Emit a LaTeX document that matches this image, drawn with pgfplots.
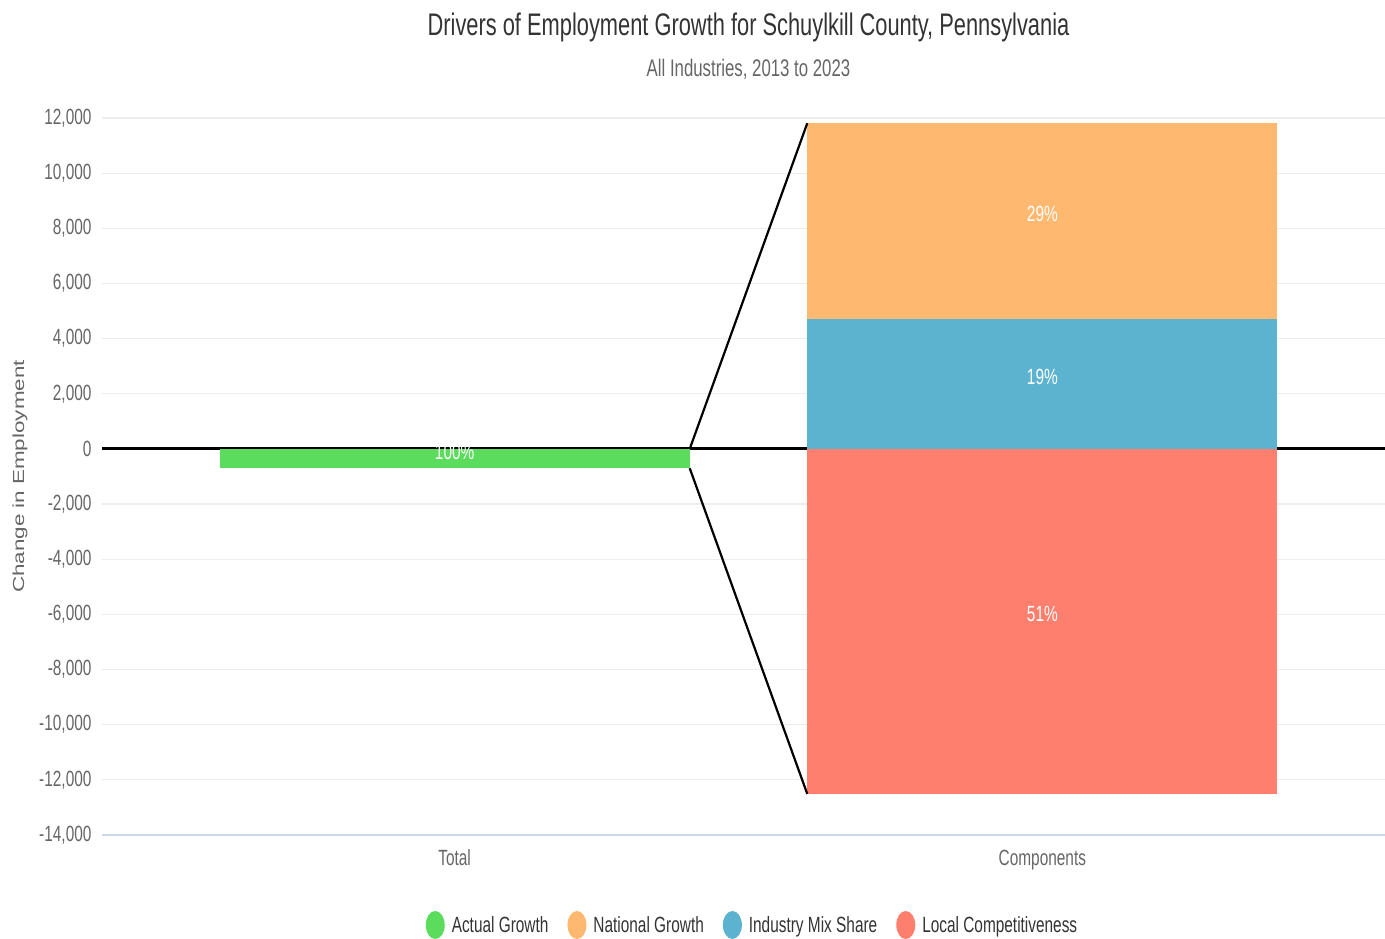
\documentclass[border=0pt]{standalone}
\usepackage{fontspec}
\setmainfont{Liberation Sans}[FakeStretch=0.7]
\newfontfamily\ylabfont{Liberation Sans}[FakeStretch=1.4]
\usepackage{pgfplots}
\pgfplotsset{compat=1.18}
\definecolor{actual}{HTML}{5CDC5C}
\definecolor{national}{HTML}{FFB870}
\definecolor{mix}{HTML}{5CB3D0}
\definecolor{local}{HTML}{FF7F6E}
\definecolor{gridc}{HTML}{EDEDED}
\definecolor{axisc}{HTML}{CCD6EB}
\definecolor{labc}{HTML}{666666}
\definecolor{titc}{HTML}{333333}
\begin{document}
\begin{tikzpicture}
\path[use as bounding box] (0,0) rectangle (1385pt,938pt);
\begin{axis}[
  at={(102pt,103pt)}, anchor=south west,
  scale only axis, width=1283pt, height=717pt,
  xmin=-0.6, xmax=1.583, ymin=-14000, ymax=12000,
  xtick={0,1}, xticklabels={Total,Components},
  ytick={-14000,-12000,...,12000},
  scaled y ticks=false,
  separate axis lines,
  axis x line*=bottom, axis y line*=left,
  y axis line style={draw=none},
  x axis line style={draw=axisc, line width=1.2pt},
  major tick length=0pt,
  ymajorgrids, grid style={color=gridc, line width=1.2pt},
  tick label style={font=\fontsize{22}{26}\selectfont, text=labc},
  yticklabel style={anchor=east, xshift=-7pt, /pgf/number format/fixed, /pgf/number format/precision=0, /pgf/number format/1000 sep={,}, /pgf/number format/assume math mode=true},
  xticklabel style={anchor=base, yshift=-30pt},
  ylabel={\ylabfont Change in Employment},
  ylabel style={at={(axis description cs:-0.0639,0.5)}, anchor=center, font=\fontsize{16}{18}\selectfont, text=labc},
  legend columns=4,
  legend cell align=left,
  legend image code/.code={\fill[#1] (0pt,0pt) ellipse [x radius=9.5pt, y radius=14pt]; \path (-9.5pt,0pt) -- (14.5pt,0pt);},
  legend style={at={(0.507,-0.1255)}, anchor=center, draw=none, fill=none,
    font=\fontsize{22}{26}\selectfont, text=titc,
    /tikz/every even column/.append style={column sep=17pt}},
]
\addplot[forget plot, black, line width=3pt] coordinates {(-0.6,0) (1.583,0)};
\addplot[fill=actual, draw=none] coordinates {(-0.4,0) (0.4,0) (0.4,-700) (-0.4,-700)};
\addlegendentry{Actual Growth}
\addplot[fill=national, draw=none] coordinates {(0.6,4720) (1.4,4720) (1.4,11810) (0.6,11810)};
\addlegendentry{National Growth}
\addplot[fill=mix, draw=none] coordinates {(0.6,0) (1.4,0) (1.4,4720) (0.6,4720)};
\addlegendentry{Industry Mix Share}
\addplot[fill=local, draw=none] coordinates {(0.6,0) (1.4,0) (1.4,-12510) (0.6,-12510)};
\addlegendentry{Local Competitiveness}
\addplot[forget plot, black, line width=2.2pt] coordinates {(0.4,0) (0.6,11810)};
\addplot[forget plot, black, line width=2.2pt] coordinates {(0.4,-700) (0.6,-12510)};
\node[text=white, font=\fontsize{22}{26}\selectfont, yshift=7pt] at (axis cs:0,-350) {100\%};
\node[text=white, font=\fontsize{22}{26}\selectfont, yshift=7pt] at (axis cs:1,8265) {29\%};
\node[text=white, font=\fontsize{22}{26}\selectfont, yshift=7pt] at (axis cs:1,2360) {19\%};
\node[text=white, font=\fontsize{22}{26}\selectfont, yshift=7pt] at (axis cs:1,-6255) {51\%};
\end{axis}
\node[font=\fontsize{31.2}{36}\selectfont, text=titc] at (748.5pt,911pt) {Drivers of Employment Growth for Schuylkill County, Pennsylvania};
\node[font=\fontsize{24}{28}\selectfont, text=labc] at (748.5pt,869pt) {All Industries, 2013 to 2023};
\end{tikzpicture}
\end{document}
